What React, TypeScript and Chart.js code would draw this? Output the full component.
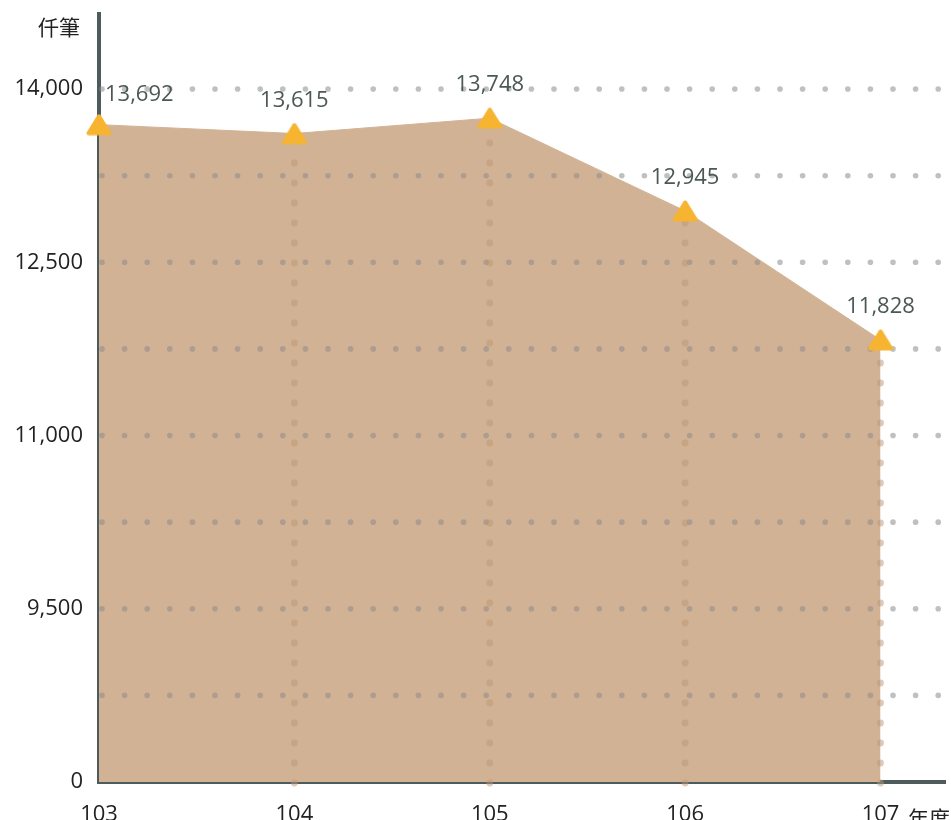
import React, { useEffect, useRef } from "react";
import { Chart, registerables } from "chart.js";

Chart.register(...registerables);

// ---- data ----
const categories = [103, 104, 105, 106, 107];
const values = [13692, 13615, 13748, 12945, 11828];
const yTickValues = [8000, 8750, 9500, 10250, 11000, 11750, 12500, 13250, 14000];
const yTickLabels = ["0", "", "9,500", "", "11,000", "", "12,500", "", "14,000"];
const yUnit = "仟筆";
const xUnit = "年度";

const FONT = '"Open Sans", "Noto Sans CJK TC", sans-serif';
const CJK = '"Noto Sans CJK TC", "Open Sans", sans-serif';
const FILL = "rgb(210,178,148)";
const AXIS = "#4d5b5a";
const MARK = "rgb(246,180,48)";

function makeTriangle(): HTMLCanvasElement {
  const c = document.createElement("canvas");
  c.width = 26;
  c.height = 22;
  const g = c.getContext("2d")!;
  g.fillStyle = MARK;
  g.strokeStyle = MARK;
  g.lineWidth = 4;
  g.lineJoin = "round";
  g.beginPath();
  g.moveTo(13, 2.5);
  g.lineTo(23.5, 19.5);
  g.lineTo(2.5, 19.5);
  g.closePath();
  g.fill();
  g.stroke();
  return c;
}

export default function App() {
  const ref = useRef<HTMLCanvasElement>(null);

  useEffect(() => {
    if (!ref.current) return;
    const tri = makeTriangle();

    const dotsPlugin = {
      id: "dots",
      beforeDatasetDraw(chart: any) {
        const { ctx, chartArea } = chart;
        const ys = chart.scales.y;
        ctx.save();
        // horizontal gray dotted grid
        ctx.fillStyle = "rgba(140,140,140,0.55)";
        yTickValues.forEach((v) => {
          if (v <= ys.min) return;
          const y = ys.getPixelForValue(v);
          for (let x = chartArea.left + 3; x <= chartArea.right + 1; x += 22.6) {
            ctx.beginPath();
            ctx.arc(x, y, 2.8, 0, Math.PI * 2);
            ctx.fill();
          }
        });
        // vertical tan dotted drop lines
        const meta = chart.getDatasetMeta(0);
        ctx.fillStyle = "rgba(188,150,115,0.5)";
        meta.data.forEach((pt: any, i: number) => {
          if (i === 0) return;
          for (let y = chartArea.bottom + 1; y > pt.y + 10; y -= 20) {
            ctx.beginPath();
            ctx.arc(pt.x, y, 3.4, 0, Math.PI * 2);
            ctx.fill();
          }
        });
        ctx.restore();
      },
      afterDatasetsDraw(chart: any) {
        const { ctx } = chart;
        const meta = chart.getDatasetMeta(0);
        ctx.save();
        ctx.font = "22px " + FONT;
        ctx.fillStyle = "#4b5856";
        ctx.textBaseline = "middle";
        meta.data.forEach((pt: any, i: number) => {
          const txt = values[i].toLocaleString("en-US");
          if (i === 0) {
            ctx.textAlign = "left";
            ctx.fillText(txt, pt.x + 6, pt.y - 30);
          } else {
            ctx.textAlign = "center";
            ctx.fillText(txt, pt.x, pt.y - 33);
          }
        });
        ctx.restore();
      },
      afterDraw(chart: any) {
        const { ctx, chartArea } = chart;
        ctx.save();
        ctx.fillStyle = "#222";
        ctx.font = "21px " + CJK;
        ctx.textBaseline = "middle";
        ctx.textAlign = "right";
        ctx.fillText(yUnit, 80, 27);
        ctx.textAlign = "left";
        ctx.fillText(xUnit, 908, chartArea.bottom + 36);
        ctx.restore();
      },
    };

    const chart = new Chart(ref.current, {
      type: "line",
      data: {
        datasets: [
          {
            data: categories.map((c, i) => ({ x: c, y: values[i] })),
            backgroundColor: FILL,
            borderColor: FILL,
            borderWidth: 1,
            fill: "start",
            tension: 0,
            pointStyle: tri as any,
            pointRadius: 12,
            clip: false as any,
          },
        ],
      },
      options: {
        animation: false,
        responsive: false,
        events: [],
        layout: { padding: { left: 0, top: 14, right: 0, bottom: 0 } },
        plugins: {
          legend: { display: false },
          tooltip: { enabled: false },
          filler: { drawTime: "beforeDatasetsDraw" } as any,
        },
        scales: {
          x: {
            type: "linear",
            min: 103,
            max: 107.33,
            grid: { display: false, drawTicks: false },
            border: { display: true, color: AXIS, width: 4 },
            afterBuildTicks: (s: any) => {
              s.ticks = categories.map((v) => ({ value: v }));
            },
            afterFit: (s: any) => {
              s.height = 68;
              s.paddingLeft = 0;
              s.paddingRight = 0;
            },
            ticks: {
              padding: 20,
              color: "#222",
              font: { size: 22, family: FONT },
              maxRotation: 0,
              autoSkip: false,
              callback: (v: any) => String(v),
            },
          },
          y: {
            type: "linear",
            min: 8000,
            max: 14650,
            grid: { display: false, drawTicks: false },
            border: { display: true, color: AXIS, width: 4 },
            afterBuildTicks: (s: any) => {
              s.ticks = yTickValues.map((v) => ({ value: v }));
            },
            afterFit: (s: any) => {
              s.width = 99;
              s.paddingTop = 0;
              s.paddingBottom = 0;
            },
            ticks: {
              padding: 16,
              color: "#222",
              font: { size: 22, family: FONT },
              autoSkip: false,
              callback: (v: any) => {
                const idx = yTickValues.indexOf(Number(v));
                return idx >= 0 ? yTickLabels[idx] : "";
              },
            },
          },
        },
      },
      plugins: [dotsPlugin],
    });
    return () => chart.destroy();
  }, []);

  return (
    <div style={{ position: "fixed", left: 0, top: 0, width: 951, height: 850, overflow: "hidden" }}>
      <canvas ref={ref} width={958} height={850} style={{ width: 958, height: 850, display: "block" }} />
    </div>
  );
}
